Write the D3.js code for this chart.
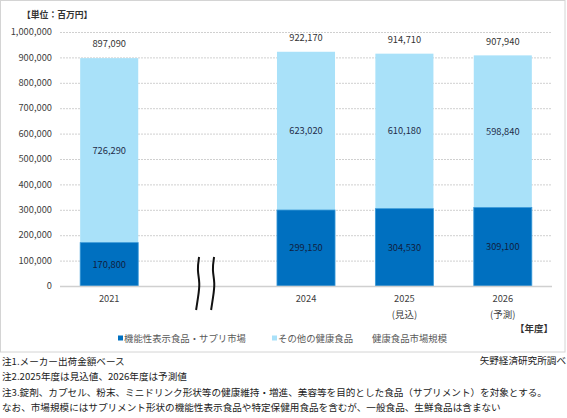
<!DOCTYPE html>
<html><head><meta charset="utf-8">
<script src="https://cdn.jsdelivr.net/npm/d3@7"></script>
<style>
body{margin:0;background:#fff;}
svg{display:block;font-family:"Noto Sans CJK JP","Noto Sans",sans-serif;}
</style></head>
<body><svg id="c" width="567" height="418"></svg>
<script>
const categories = ["2021", "2024", "2025", "2026"];
const subLabels = ["", "", "(見込)", "(予測)"];
const supplement = [170800, 299150, 304530, 309100];
const otherHealth = [726290, 623020, 610180, 598840];
const totals = [897090, 922170, 914710, 907940];
const yTicks = [0,100000,200000,300000,400000,500000,600000,700000,800000,900000,1000000];
const seriesNames = ["機能性表示食品・サプリ市場", "その他の健康食品", "健康食品市場規模"];
const notes = [
  "注1.メーカー出荷金額ベース",
  "注2.2025年度は見込値、2026年度は予測値",
  "注3.錠剤、カプセル、粉末、ミニドリンク形状等の健康維持・増進、美容等を目的とした食品（サプリメント）を対象とする。",
  "なお、市場規模にはサプリメント形状の機能性表示食品や特定保健用食品を含むが、一般食品、生鮮食品は含まない"
];
const unitLabel = "【単位：百万円】";
const xUnitLabel = "【年度】";
const source = "矢野経済研究所調べ";

const C_DARK = "#0070C0", C_LIGHT = "#A9E1F9";
const svg = d3.select("#c");

// frame
svg.append("rect").attr("x",0.5).attr("y",0.5).attr("width",564.5).attr("height",351.5)
  .attr("fill","#fff").attr("stroke","#d4d4d4");

const gapKey = "__gap__";
const x = d3.scaleBand().domain([categories[0], gapKey, ...categories.slice(1)])
  .range([60, 552]).paddingInner(0.41).paddingOuter(0.205);
const y = d3.scaleLinear().domain([0, 1000000]).range([286, 32]);

// gridlines
svg.append("g").selectAll("line").data(yTicks.filter(d=>d>0)).join("line")
  .attr("x1",60).attr("x2",552).attr("y1",d=>y(d)+0.5).attr("y2",d=>y(d)+0.5)
  .attr("stroke","#d0d0d0").attr("stroke-dasharray","2,1");

// y axis labels
svg.append("g").selectAll("text").data(yTicks).join("text")
  .attr("x",52).attr("y",d=>y(d)).attr("dy","0.35em").attr("text-anchor","end")
  .attr("font-size",9.3).attr("fill","#404040").text(d3.format(","));

// bars
const data = categories.map((c,i)=>({c, s:supplement[i], o:otherHealth[i], t:totals[i], sub:subLabels[i]}));
const bw = x.bandwidth();
const g = svg.append("g");
g.selectAll("rect.o").data(data).join("rect").attr("class","o")
  .attr("x",d=>x(d.c)).attr("width",bw)
  .attr("y",d=>y(d.s+d.o)).attr("height",d=>y(d.s)-y(d.s+d.o))
  .attr("fill",C_LIGHT);
g.selectAll("rect.s").data(data).join("rect").attr("class","s")
  .attr("x",d=>x(d.c)).attr("width",bw)
  .attr("y",d=>y(d.s)).attr("height",d=>y(0)-y(d.s))
  .attr("fill",C_DARK).attr("stroke","#3a9ad9").attr("stroke-width",0.8);

// x axis line
svg.append("line").attr("x1",60).attr("x2",552).attr("y1",y(0)+0.5).attr("y2",y(0)+0.5)
  .attr("stroke","#d0d0d0").attr("stroke-width",1.5);

// labels
const fmt = d3.format(",");
const LFS = 9.3;
g.selectAll("text.t").data(data).join("text").attr("class","t")
  .attr("x",d=>x(d.c)+bw/2).attr("y",d=>y(d.t)-14).attr("dy","0.35em")
  .attr("text-anchor","middle").attr("font-size",LFS).attr("fill","#333").text(d=>fmt(d.t));
g.selectAll("text.o").data(data).join("text").attr("class","o")
  .attr("x",d=>x(d.c)+bw/2).attr("y",d=>(y(d.s+d.o)+y(d.s))/2).attr("dy","0.35em")
  .attr("text-anchor","middle").attr("font-size",LFS).attr("fill","#1f2d4a").text(d=>fmt(d.o));
g.selectAll("text.s").data(data).join("text").attr("class","s")
  .attr("x",d=>x(d.c)+bw/2).attr("y",d=>(y(d.s)+y(0))/2).attr("dy","0.35em")
  .attr("text-anchor","middle").attr("font-size",LFS).attr("fill","#10203f").text(d=>fmt(d.s));

// x labels
g.selectAll("text.x").data(data).join("text").attr("class","x")
  .attr("x",d=>x(d.c)+bw/2).attr("y",299).attr("dy","0.35em")
  .attr("text-anchor","middle").attr("font-size",LFS).attr("fill","#404040").text(d=>d.c);
g.selectAll("text.x2").data(data.filter(d=>d.sub)).join("text").attr("class","x2")
  .attr("x",d=>x(d.c)+bw/2).attr("y",315).attr("dy","0.35em")
  .attr("text-anchor","middle").attr("font-size",9.5).attr("fill","#404040").text(d=>d.sub);

// axis break marks
const gc = x(gapKey) + bw/2;
const wave = d3.line().curve(d3.curveBasis);
[-7.5, 7.5].forEach(off=>{
  const cx = gc + off - 2;
  const pts = [[cx+1,257],[cx-1,270],[cx+2,283],[cx+0,297],[cx-2,310]];
  svg.append("path").attr("d",wave(pts)).attr("fill","none")
    .attr("stroke","#111").attr("stroke-width",2);
});

// x unit
svg.append("text").attr("x",553).attr("y",329).attr("dy","0.35em").attr("text-anchor","end")
  .attr("font-size",9.5).attr("font-weight","bold").attr("fill","#333").text(xUnitLabel);

// unit label
svg.append("text").attr("x",22).attr("y",15).attr("dy","0.35em")
  .attr("font-size",8.8).attr("font-weight","bold").attr("fill","#333").text(unitLabel);

// legend
const leg = svg.append("g");
const legItems = [
  {name:seriesNames[0], color:C_DARK, x:118},
  {name:seriesNames[1], color:C_LIGHT, x:272},
  {name:seriesNames[2], color:null, x:372}
];
legItems.forEach(it=>{
  let tx = it.x;
  if (it.color){
    leg.append("rect").attr("x",it.x).attr("y",335.5).attr("width",5).attr("height",5).attr("fill",it.color);
    tx = it.x + 6;
  }
  leg.append("text").attr("x",tx).attr("y",338.5).attr("dy","0.35em")
    .attr("font-size",9.4).attr("fill","#595959").text(it.name);
});

// notes
const nt = svg.append("g");
nt.selectAll("text").data(notes).join("text")
  .attr("x",2).attr("y",(d,i)=>361.5+i*15.5).attr("dy","0.35em")
  .attr("font-size",9.6).attr("fill","#222").text(d=>d);
svg.append("text").attr("x",566).attr("y",360.5).attr("dy","0.35em").attr("text-anchor","end")
  .attr("font-size",9.6).attr("fill","#222").text(source);
</script></body></html>
